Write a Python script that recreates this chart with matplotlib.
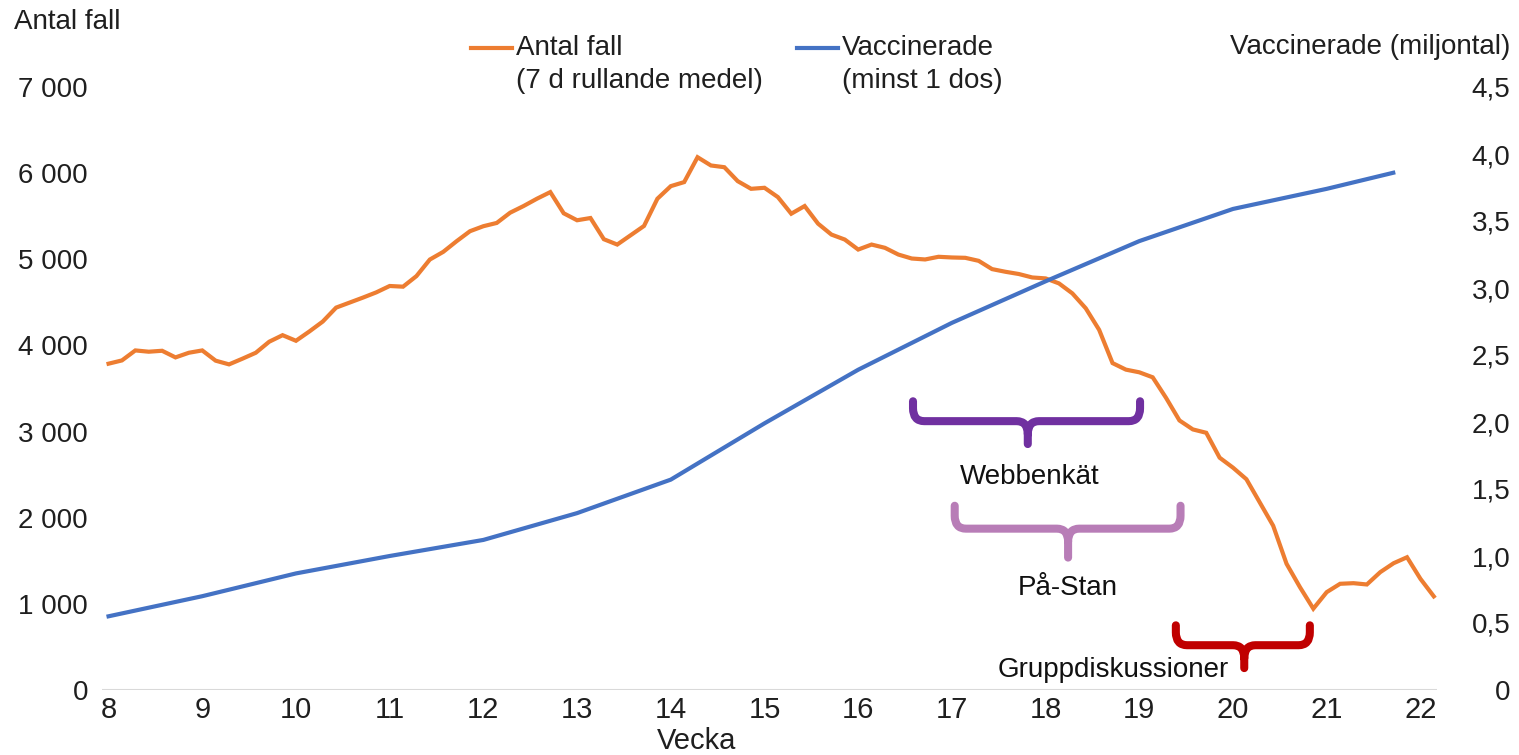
import numpy as np
import matplotlib
matplotlib.use("Agg")
import matplotlib.pyplot as plt
from matplotlib.path import Path
from matplotlib.patches import PathPatch
from matplotlib.lines import Line2D
from matplotlib.ticker import FuncFormatter

plt.rcParams['font.family'] = ['Liberation Sans', 'DejaVu Sans']

# ---- data ----
# daily 7-day rolling mean of cases, starting week 8 (one value per day)
cases = [3788, 3826, 3942, 3927, 3938, 3861, 3915, 3942, 3823, 3780,
         3846, 3915, 4043, 4119, 4054, 4162, 4277, 4439, 4497, 4555,
         4616, 4690, 4682, 4805, 4997, 5086, 5210, 5326, 5384, 5422,
         5541, 5618, 5703, 5780, 5534, 5453, 5479, 5233, 5171, 5279,
         5387, 5703, 5849, 5896, 6185, 6089, 6069, 5907, 5818, 5830,
         5722, 5529, 5618, 5414, 5287, 5229, 5113, 5171, 5133, 5055,
         5009, 4998, 5029, 5021, 5017, 4982, 4886, 4855, 4829, 4789,
         4778, 4720, 4604, 4431, 4181, 3795, 3719, 3688, 3630, 3391,
         3129, 3025, 2986, 2697, 2581, 2447, 2177, 1907, 1465, 1194,
         944, 1136, 1233, 1240, 1225, 1368, 1472, 1541, 1291, 1087]
case_start_week = 8
days_per_week = 7

vacc_weeks = [8, 9, 10, 11, 12, 13, 14, 15, 16, 17, 18, 19, 20, 21, 21.71]
vacc_mill = [0.55, 0.70, 0.87, 1.00, 1.12, 1.32, 1.57, 1.99, 2.39, 2.74,
             3.05, 3.35, 3.59, 3.74, 3.86]

week_ticks = list(range(8, 23))
left_ticks = [0, 1000, 2000, 3000, 4000, 5000, 6000, 7000]
right_ticks = [0, 0.5, 1.0, 1.5, 2.0, 2.5, 3.0, 3.5, 4.0, 4.5]

# brackets: (label, x_start, x_end, x_center, y_top, y_line, y_tip, color, label_x, label_y)
brackets = [
    ("Webbenkät", 16.585, 19.008, 17.81, 3352, 3121, 2855, "#7030A0", 17.83, 2470),
    ("På-Stan", 17.03, 19.44, 18.24, 2139, 1873, 1537, "#B87DB7", 18.24, 1180),
    ("Gruppdiskussioner", 19.39, 20.82, 20.12, 751, 520, 254, "#C00000", 18.72, 235),
]

ORANGE = "#ED7D31"
BLUE = "#4472C4"
TXT = "#1F1F1F"

W, H = 1519, 755
fig = plt.figure(figsize=(W / 100, H / 100), dpi=100)
ax = fig.add_axes([102 / W, 1 - 690 / H, (1437 - 102) / W, (690 - 87) / H])
ax2 = ax.twinx()

x_cases = case_start_week + np.arange(len(cases)) / days_per_week
ax.plot(x_cases, cases, color=ORANGE, lw=3, solid_joinstyle='miter', zorder=3)
ax2.plot(vacc_weeks, vacc_mill, color=BLUE, lw=3, zorder=3)

ax.set_xlim(7.93, 22.177)
ax.set_ylim(0, 7000)
ax2.set_ylim(0, 4.5)

for a in (ax, ax2):
    for s in a.spines.values():
        s.set_visible(False)
ax.axhline(0, color="#D9D9D9", lw=1.5, zorder=1)

ax.set_xticks(week_ticks)
ax.set_xticklabels([str(w) for w in week_ticks], family=['Liberation Sans Narrow', 'Liberation Sans'],
                   fontsize=21, color=TXT)
ax.tick_params(axis='x', length=0, pad=4)

ax.set_yticks(left_ticks)
ax.yaxis.set_major_formatter(FuncFormatter(lambda v, p: f"{int(v):,}".replace(",", " ")))
ax.tick_params(axis='y', length=0, pad=10, labelsize=20, labelcolor=TXT)

ax2.set_yticks(right_ticks)
ax2.yaxis.set_major_formatter(FuncFormatter(lambda v, p: "0" if v == 0 else f"{v:.1f}".replace(".", ",")))
ax2.tick_params(axis='y', length=0, pad=53, labelsize=20, labelcolor=TXT)
for lbl in ax2.get_yticklabels():
    lbl.set_ha('right')

# brackets
rx, ry = 0.12, 150
for label, x0, x1, xc, yt, yl, yb, col, lx, ly in brackets:
    ax.text(lx, ly, label, ha='center', va='center', fontsize=20, color="#111111", zorder=4)
    verts = [(x0, yt), (x0, yl + ry), (x0, yl), (x0 + rx, yl), (xc - rx, yl), (xc, yl), (xc, yl - ry), (xc, yb),
             (x1, yt), (x1, yl + ry), (x1, yl), (x1 - rx, yl), (xc + rx, yl), (xc, yl), (xc, yl - ry)]
    codes = [Path.MOVETO, Path.LINETO, Path.CURVE3, Path.CURVE3, Path.LINETO, Path.CURVE3, Path.CURVE3, Path.LINETO,
             Path.MOVETO, Path.LINETO, Path.CURVE3, Path.CURVE3, Path.LINETO, Path.CURVE3, Path.CURVE3]
    ax.add_patch(PathPatch(Path(verts, codes), fill=False, edgecolor=col, lw=5.8,
                           capstyle='round', joinstyle='round', zorder=5))

# titles
fig.text(14 / W, 1 - 22 / H, "Antal fall", ha='left', va='center', fontsize=20, color=TXT)
fig.text(1510 / W, 1 - 47 / H, "Vaccinerade (miljontal)", ha='right', va='center', fontsize=20, color=TXT)
fig.text(697 / W, 1 - 741 / H, "Vecka", ha='center', va='center', fontsize=21, color=TXT,
         family=['Liberation Sans Narrow', 'Liberation Sans'])

# legend (manual)
fig.add_artist(Line2D([471 / W, 512 / W], [1 - 48 / H, 1 - 48 / H], color=ORANGE, lw=3, transform=fig.transFigure))
fig.text(516 / W, 1 - 48 / H, "Antal fall", ha='left', va='center', fontsize=20, color=TXT)
fig.text(516 / W, 1 - 81 / H, "(7 d rullande medel)", ha='left', va='center', fontsize=20, color=TXT)
fig.add_artist(Line2D([797 / W, 838 / W], [1 - 48 / H, 1 - 48 / H], color=BLUE, lw=3, transform=fig.transFigure))
fig.text(842 / W, 1 - 48 / H, "Vaccinerade", ha='left', va='center', fontsize=20, color=TXT)
fig.text(842 / W, 1 - 81 / H, "(minst 1 dos)", ha='left', va='center', fontsize=20, color=TXT)

fig.savefig("out.png", dpi=100)
